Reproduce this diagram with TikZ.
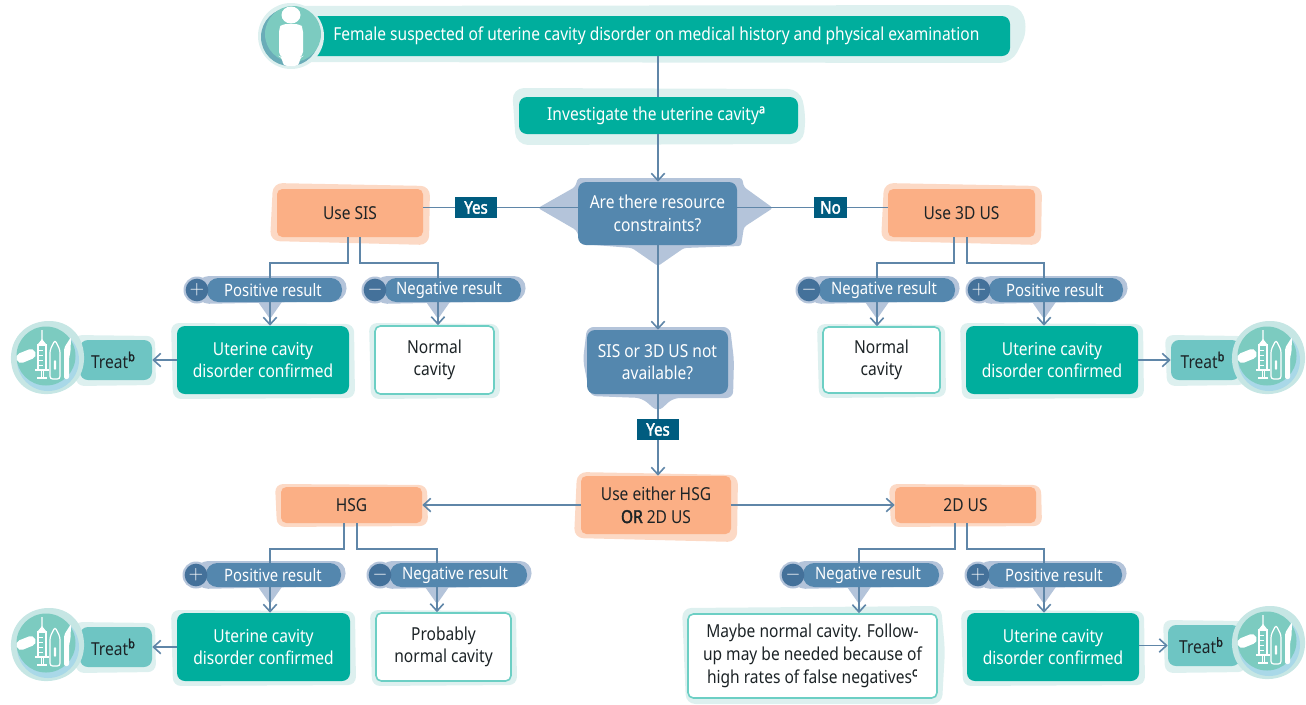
\documentclass[tikz,border=0pt]{standalone}
\usepackage{fontspec}
\setmainfont{Noto Sans}[FakeStretch=0.87,BoldFont={Noto Sans},BoldFeatures={FakeBold=2.2}]
\usetikzlibrary{arrows.meta,calc}
\definecolor{teal}{HTML}{00AE9D}
\definecolor{tealhalo}{HTML}{DDF0EF}
\definecolor{orangebox}{HTML}{FBAF85}
\definecolor{orangehalo}{HTML}{FCD9C5}
\definecolor{bluebox}{HTML}{5487AE}
\definecolor{bluehalo}{HTML}{B4C4DA}
\definecolor{darklab}{HTML}{005C7F}
\definecolor{signblue}{HTML}{44719A}
\definecolor{linec}{HTML}{5F86A8}
\definecolor{treatc}{HTML}{6EC5C3}
\definecolor{iconc}{HTML}{7CCBC0}
\definecolor{iconhalo}{HTML}{C6E6E4}
\definecolor{iconedge}{HTML}{A9D8E8}
\definecolor{ink}{HTML}{1C2326}
\definecolor{outline}{HTML}{6CCFC4}
\tikzset{
  x=0.75pt,y=-0.75pt,
  boxbase/.style={rounded corners=6pt,inner sep=0pt,align=center,font=\fontsize{13.4}{17}\selectfont},
  tealbox/.style={boxbase,fill=teal,text=white},
  orangeb/.style={boxbase,fill=orangebox,text=ink,rounded corners=4pt},
  blueb/.style={boxbase,fill=bluebox,text=white},
  whiteb/.style={boxbase,fill=white,draw=outline,line width=1.2pt,text=ink,rounded corners=4pt},
  treatb/.style={boxbase,fill=treatc,text=ink,rounded corners=6pt},
  lab/.style={fill=darklab,text=white,inner sep=0pt,font=\fontsize{13}{14}\selectfont\bfseries},
  pillb/.style={fill=bluebox,text=white,rounded corners=8.5pt,inner sep=0pt,font=\fontsize{12.8}{14}\selectfont},
  sign/.style={circle,fill=signblue,text=white,inner sep=0pt,minimum size=17pt,font=\fontsize{14}{14}\selectfont},
  conn/.style={draw=linec,line width=1.25pt},
  arr/.style={conn,-{Straight Barb[length=5.5pt,width=10pt,line width=1.2pt]}},
}
% box from corners: name, style, x1,y1,x2,y2, text
\newcommand\bx[7]{%
  \pgfmathsetmacro\cxx{((#3)+(#5))/2}\pgfmathsetmacro\cyy{((#4)+(#6))/2}%
  \pgfmathsetmacro\wdd{((#5)-(#3))*0.75}\pgfmathsetmacro\htt{((#6)-(#4))*0.75}%
  \node[#2,minimum width=\wdd pt,minimum height=\htt pt] (#1) at (\cxx,\cyy) {#7};}
% big halo: colour, x1,y1,x2,y2
\newcommand\halo[5]{%
  \fill[#1,rounded corners=7pt] (#2-4,#3-6) -- (#4+7,#3-3) -- (#4+6,#5+8) -- (#2-7,#5+4) -- cycle;}
% thin halo
\newcommand\thalo[5]{%
  \fill[#1,rounded corners=6pt] (#2-6,#3-3) -- (#4+5,#3-2) -- (#4+6,#5+4) -- (#2-4,#5+5) -- cycle;}
% pill: name, circle x, body end, y, text centre, pointer x, signname, sign text, label
\newcommand\pill[9]{%
  \fill[bluehalo] (#6-14,#4+9) -- (#6,#4+29) -- (#6+14,#4+9) -- cycle;
  \fill[bluehalo,rounded corners=9pt] (#2,#4-14) -- (#3+5,#4-14) -- (#3+4,#4+11) -- (#2,#4+14) -- cycle;
  \fill[bluehalo] (#2,#4) circle (13.5);
  \pgfmathsetmacro\shiftt{(#5-(#2+10+#3)/2)*1.5}%
  \bx{#1}{pillb}{#2+10}{#4-12}{#3}{#4+12}{\hspace*{\shiftt pt}#9}
  \node[sign] (#7) at (#2,#4) {#8};}
\newcommand\medicon[2]{%
  \begin{scope}[shift={(#1,#2)}]
    \fill[iconhalo] (0,-37) .. controls (24,-38) and (38,-20) .. (37,2) .. controls (36,24) and (18,37) .. (-3,36) .. controls (-24,35) and (-37,18) .. (-36,-2) .. controls (-35,-22) and (-20,-36) .. (0,-37) -- cycle;
    \fill[iconedge] (1,2) circle (31);
    \fill[iconc] (-1,-2) circle (29.5);
    % pill
    \begin{scope}[shift={(-21,-2)},rotate=22]
      \fill[white,rounded corners=3.5pt] (-10,-5) rectangle (10,5);
    \end{scope}
    % syringe
    \draw[white,line width=0.9pt] (-9,-13) rectangle (-1,12);
    \fill[white] (-5.6,-28) -- (-4.4,-28) -- (-4.2,-13) -- (-5.8,-13) -- cycle;
    \fill[white] (-9,-14) -- (-5,-19) -- (-1,-14) -- cycle;
    \foreach \yy in {-8,-3,2,7} {\draw[white,line width=.6pt] (-9,\yy) -- (-4,\yy);}
    \fill[white] (-12,11) rectangle (2,13);
    \fill[white] (-6.5,13) rectangle (-5,19);
    \fill[white] (-4.5,13) rectangle (-3,19);
    \fill[white] (-10,19) rectangle (0,21);
    % ampoule
    \draw[white,line width=0.9pt,rounded corners=2pt] (3,21) -- (3,-8) -- (8,-18) -- (13,-8) -- (13,21) -- cycle;
    \fill[white,rounded corners=1pt] (6.8,2) rectangle (9.2,12);
    % scalpel
    \fill[white,rounded corners=1.5pt] (17,21) -- (17,-10) -- (24,-21) -- (23.5,-6) -- (22,0) -- (22,21) -- cycle;
  \end{scope}}
\begin{document}
\begin{tikzpicture}
\useasboundingbox (0,0) rectangle (1306,704);
% top
\fill[tealhalo,rounded corners=9pt] (272,6) -- (1020,5) -- (1028,30) -- (1012,63) -- (280,62) -- cycle;
\bx{top}{tealbox}{300}{16}{1010}{56}{\hspace*{2pt}Female suspected of uterine cavity disorder on medical history and physical examination}
\fill[iconhalo!60] (291,36) circle (33);
\fill[bluebox!45!iconc] (290,37) circle (29);
\fill[iconc] (293,34) circle (28);
\fill[white] (291,15) ellipse [x radius=9.5, y radius=8.5];
\fill[white,rounded corners=3pt] (282,24) -- (300,24) -- (303,28) -- (303,56) -- (300,57) -- (299,66) -- (283,66) -- (282,57) -- (279,56) -- (279,28) -- cycle;
\fill[tealhalo,rounded corners=9pt] (512,88) -- (800,89) -- (806,115) -- (803,144) -- (516,145) -- cycle;
\bx{inv}{tealbox}{519}{97}{798}{134}{\hspace*{-3pt}Investigate the uterine cavity\textsuperscript{\textbf{a}}}
% decision 1
\fill[bluehalo,rounded corners=2pt] (578,178) -- (742,178) -- (744,187) -- (773,208) -- (744,227) -- (741,246) -- (684,248) -- (658,266) -- (632,248) -- (582,244) -- (576,230) -- (538,208) -- (575,187) -- cycle;
\bx{dec}{blueb}{578}{182}{737}{245}{Are there resource\\constraints?}
% decision 2
\fill[bluehalo,rounded corners=5pt] (587,327) -- (730,327) -- (734,360) -- (733,398) -- (673,398) -- (658,412) -- (642,398) -- (590,396) -- (583,360) -- cycle;
\bx{dec2}{blueb}{587}{330}{728}{394}{SIS or 3D US not\\available?}
% use
\halo{orangehalo}{277}{189}{423}{237}
\bx{sis}{orangeb}{277}{189}{423}{237}{Use SIS}
\halo{orangehalo}{888}{189}{1035}{237}
\bx{tdus}{orangeb}{888}{189}{1035}{237}{Use 3D US}
\halo{orangehalo}{581}{478}{731}{534}
\bx{either}{orangeb}{581}{476}{731}{534}{Use either HSG\\\textbf{OR} 2D US}
\thalo{orangehalo}{281}{487}{422}{522}
\bx{hsg}{orangeb}{281}{487}{422}{523}{HSG}
\thalo{orangehalo}{895}{487}{1036}{522}
\bx{twod}{orangeb}{895}{487}{1036}{523}{2D US}
% row 1 results
\thalo{tealhalo}{177}{326}{349}{394}
\bx{ua}{tealbox}{177}{326}{349}{394}{Uterine cavity\\disorder confirmed}
\thalo{tealhalo}{375}{326}{494}{394}
\bx{na}{whiteb}{375}{326}{494}{394}{Normal\\cavity}
\thalo{tealhalo}{823}{327}{940}{393}
\bx{nb}{whiteb}{823}{327}{940}{393}{Normal\\cavity}
\thalo{tealhalo}{966}{326}{1138}{394}
\bx{ub}{tealbox}{966}{326}{1138}{394}{Uterine cavity\\disorder confirmed}
% row 2 results
\thalo{tealhalo}{177}{613}{350}{681}
\bx{uc}{tealbox}{177}{613}{350}{681}{Uterine cavity\\disorder confirmed}
\thalo{tealhalo}{376}{613}{511}{681}
\bx{nc}{whiteb}{376}{613}{511}{681}{Probably\\normal cavity}
\fill[tealhalo,rounded corners=7pt] (682,608) -- (941,606) -- (945,650) -- (942,704) -- (686,704) -- cycle;
\bx{nd}{whiteb}{688}{614}{937}{698}{Maybe normal cavity. Follow-\\up may be needed because of\\high rates of false negatives\textsuperscript{\textbf{c}}}
\thalo{tealhalo}{967}{613}{1139}{681}
\bx{ud}{tealbox}{967}{613}{1139}{681}{Uterine cavity\\disorder confirmed}
% treat
\thalo{tealhalo}{80}{338}{150}{381}
\bx{ta}{treatb}{80}{340}{152}{380}{\hspace*{-4pt}Treat\textsuperscript{\textbf{b}}}
\thalo{tealhalo}{80}{625}{150}{668}
\bx{tc}{treatb}{80}{627}{152}{667}{\hspace*{-4pt}Treat\textsuperscript{\textbf{b}}}
\thalo{tealhalo}{1171}{338}{1240}{381}
\bx{tb}{treatb}{1171}{340}{1240}{380}{\hspace*{-4pt}Treat\textsuperscript{\textbf{b}}}
\thalo{tealhalo}{1169}{623}{1240}{668}
\bx{td}{treatb}{1168}{625}{1240}{666}{\hspace*{-4pt}Treat\textsuperscript{\textbf{b}}}
\medicon{47}{358}
\medicon{47}{645}
\medicon{1268}{358}
\medicon{1268}{643}
% labels
\bx{yesa}{lab}{455}{197}{497}{218}{Yes}
\bx{noa}{lab}{814}{197}{847}{218}{No}
\bx{yesb}{lab}{637}{419}{679}{440}{Yes}
% pills
\pill{pa}{197}{342}{290}{273}{270}{sa}{$+$}{Positive result}
\pill{pb}{375}{521}{290}{449}{438}{sb}{$-$}{Negative result}
\pill{pc}{809}{955}{290}{884}{877}{sc}{$-$}{Negative result}
\pill{pd}{979}{1123}{290}{1055}{1044}{sd}{$+$}{Positive result}
\pill{pe}{196}{341}{575}{273}{270}{se}{$+$}{Positive result}
\pill{pf}{380}{527}{575}{455}{437}{sf}{$-$}{Negative result}
\pill{pg}{793}{939}{575}{868}{859}{sg}{$-$}{Negative result}
\pill{ph}{978}{1122}{575}{1054}{1044}{sh}{$+$}{Positive result}
% connectors
\draw[conn] (top.south -| yesb.north) -- (inv.north -| yesb.north);
\draw[arr] (inv.south -| yesb.north) -- (dec.north -| yesb.north);
\draw[arr] (dec.south -| yesb.north) -- (dec2.north -| yesb.north);
\draw[conn] (dec2.south -| yesb.north) -- (yesb.north);
\draw[arr] (yesb.south) -- (either.north -| yesb.south);
\draw[arr] (either.west |- hsg.east) -- (hsg.east);
\draw[arr] (either.east |- twod.west) -- (twod.west);
\draw[conn] (dec.west |- yesa.east) -- (yesa.east);
\draw[conn] (yesa.west) -- (sis.east |- yesa.west);
\draw[conn] (dec.east |- noa.west) -- (noa.west);
\draw[conn] (noa.east) -- (tdus.west |- noa.east);
% branches down to the pills
\draw[conn] ([xshift=-1.5pt]sis.south) -- ++(0,26) -| ([xshift=5.25pt]ua.north |- pa.north);
\draw[conn] ([xshift=7.5pt]sis.south) -- ++(0,26) -| ([xshift=2.6pt]na.north |- pb.north);
\draw[conn] ([xshift=-5.6pt]tdus.south) -- ++(0,26) -| ([xshift=-3.4pt]nb.north |- pc.north);
\draw[conn] ([xshift=4pt]tdus.south) -- ++(0,26) -| ([xshift=-6pt]ub.north |- pd.north);
\draw[conn] ([xshift=-5.6pt]hsg.south) -- ++(0,26) -| ([xshift=4.9pt]uc.north |- pe.north);
\draw[conn] ([xshift=4pt]hsg.south) -- ++(0,26) -| ([xshift=-4.9pt]nc.north |- pf.north);
\draw[conn] ([xshift=-7.9pt]twod.south) -- ++(0,26) -| ([xshift=34.9pt]nd.north |- pg.north);
\draw[conn] ([xshift=1pt]twod.south) -- ++(0,26) -| ([xshift=-6.75pt]ud.north |- ph.north);
% stems from the pills to the result boxes
\draw[arr] ([xshift=5.25pt]ua.north |- pa.south) -- ([xshift=5.25pt]ua.north);
\draw[arr] ([xshift=2.6pt]na.north |- pb.south) -- ([xshift=2.6pt]na.north);
\draw[arr] ([xshift=-3.4pt]nb.north |- pc.south) -- ([xshift=-3.4pt]nb.north);
\draw[arr] ([xshift=-6pt]ub.north |- pd.south) -- ([xshift=-6pt]ub.north);
\draw[arr] ([xshift=4.9pt]uc.north |- pe.south) -- ([xshift=4.9pt]uc.north);
\draw[arr] ([xshift=-4.9pt]nc.north |- pf.south) -- ([xshift=-4.9pt]nc.north);
\draw[arr] ([xshift=34.9pt]nd.north |- pg.south) -- ([xshift=34.9pt]nd.north);
\draw[arr] ([xshift=-6.75pt]ud.north |- ph.south) -- ([xshift=-6.75pt]ud.north);
% treat arrows
\draw[arr] (ua.west |- ta.east) -- (ta.east);
\draw[arr] (uc.west |- tc.east) -- (tc.east);
\draw[arr] (ub.east |- tb.west) -- (tb.west);
\draw[arr] (ud.east |- td.west) -- (td.west);
\end{tikzpicture}
\end{document}
